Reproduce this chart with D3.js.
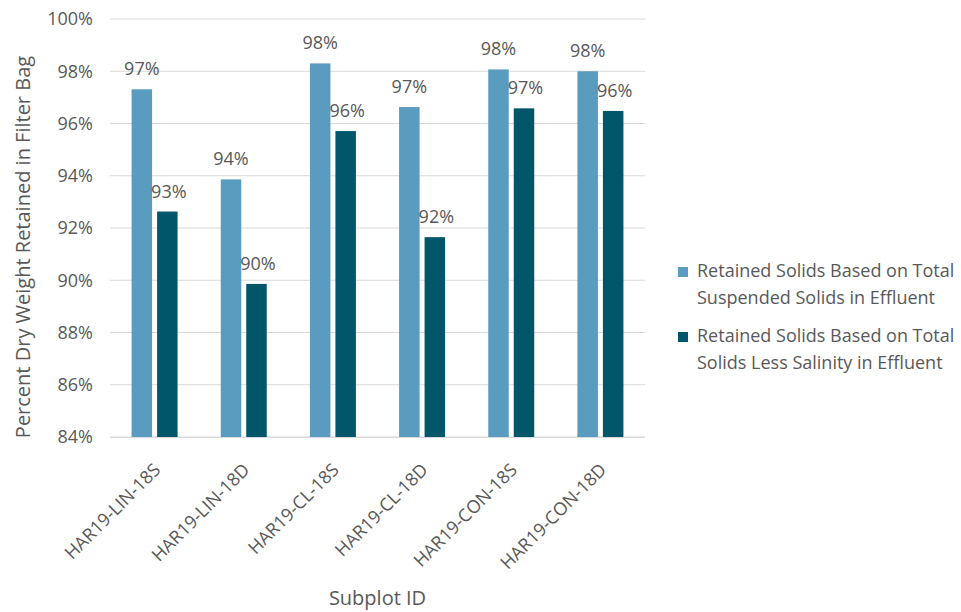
<!DOCTYPE html>
<html><head><meta charset="utf-8">
<script src="https://cdn.jsdelivr.net/npm/d3@7"></script>
<style>body{margin:0;background:#fff;} text{font-family:"Open Sans",sans-serif;fill:#595959;}</style>
</head><body><svg id="c" width="961" height="612"></svg>
<script>
const categories = ["HAR19-LIN-18S","HAR19-LIN-18D","HAR19-CL-18S","HAR19-CL-18D","HAR19-CON-18S","HAR19-CON-18D"];
const seriesNames = ["Retained Solids Based on Total Suspended Solids in Effluent","Retained Solids Based on Total Solids Less Salinity in Effluent"];
const tssValues = [97.31, 93.86, 98.30, 96.63, 98.07, 98.00];
const tsLessSalValues = [92.63, 89.86, 95.71, 91.65, 96.58, 96.48];
const yTicks = [84,86,88,90,92,94,96,98,100];
const colors = ["#5A9BC0","#02566A"];
const legendLines = [["Retained Solids Based on Total","Suspended Solids in Effluent"],["Retained Solids Based on Total","Solids Less Salinity in Effluent"]];

const svg = d3.select("#c");
const pL=110, pR=645, pT=19, pB=437;
const x = d3.scaleBand().domain(categories).range([pL,pR]);
const y = d3.scaleLinear().domain([84,100]).range([pB,pT]);
const series = [tssValues, tsLessSalValues];

svg.append("g").selectAll("line").data(yTicks).join("line")
  .attr("x1",pL).attr("x2",pR).attr("y1",d=>y(d)).attr("y2",d=>y(d))
  .attr("stroke","#d9d9d9").attr("stroke-width",1);
svg.append("g").selectAll("text").data(yTicks).join("text")
  .attr("x",93).attr("y",d=>y(d)).attr("dy","0.35em").attr("text-anchor","end")
  .style("font-size","18px").text(d=>d+"%");

const bw=20.5, gap=5;
series.forEach((vals,si)=>{
  const g = svg.append("g");
  g.selectAll("rect").data(categories).join("rect")
    .attr("x",(c)=>x(c)+x.bandwidth()/2 - (bw+gap/2) + si*(bw+gap) )
    .attr("width",bw)
    .attr("y",(c,i)=>y(vals[i]))
    .attr("height",(c,i)=>y(84)-y(vals[i]))
    .attr("fill",colors[si]);
  g.selectAll("text").data(categories).join("text")
    .attr("x",(c)=>x(c)+x.bandwidth()/2 - (bw+gap/2) + si*(bw+gap) + bw/2 + si*1.5)
    .attr("y",(c,i)=>y(vals[i])-14)
    .attr("text-anchor","middle").style("font-size","18px")
    .text((c,i)=>Math.round(vals[i])+"%");
});

svg.append("line").attr("x1",pL).attr("x2",pR).attr("y1",pB+0.5).attr("y2",pB+0.5).attr("stroke","#d9d9d9");

svg.append("g").selectAll("text").data(categories).join("text")
  .attr("transform",c=>`translate(${x(c)+x.bandwidth()/2+7},${pB+34}) rotate(-45)`)
  .attr("text-anchor","end").style("font-size","18px").text(c=>c);

svg.append("text").attr("transform",`translate(30,247) rotate(-90)`)
  .attr("text-anchor","middle").style("font-size","20px").text("Percent Dry Weight Retained in Filter Bag");
svg.append("text").attr("x",(pL+pR)/2).attr("y",605).attr("text-anchor","middle")
  .style("font-size","20px").text("Subplot ID");

const lg = svg.append("g");
legendLines.forEach((lines,i)=>{
  const y0 = 271 + i*65;
  lg.append("rect").attr("x",678).attr("y",y0-4).attr("width",10).attr("height",10).attr("fill",colors[i]);
  lines.forEach((t,j)=>{
    lg.append("text").attr("x",697).attr("y",y0+j*26.5).attr("dy","0.35em").style("font-size","18px").text(t);
  });
});
</script></body></html>
